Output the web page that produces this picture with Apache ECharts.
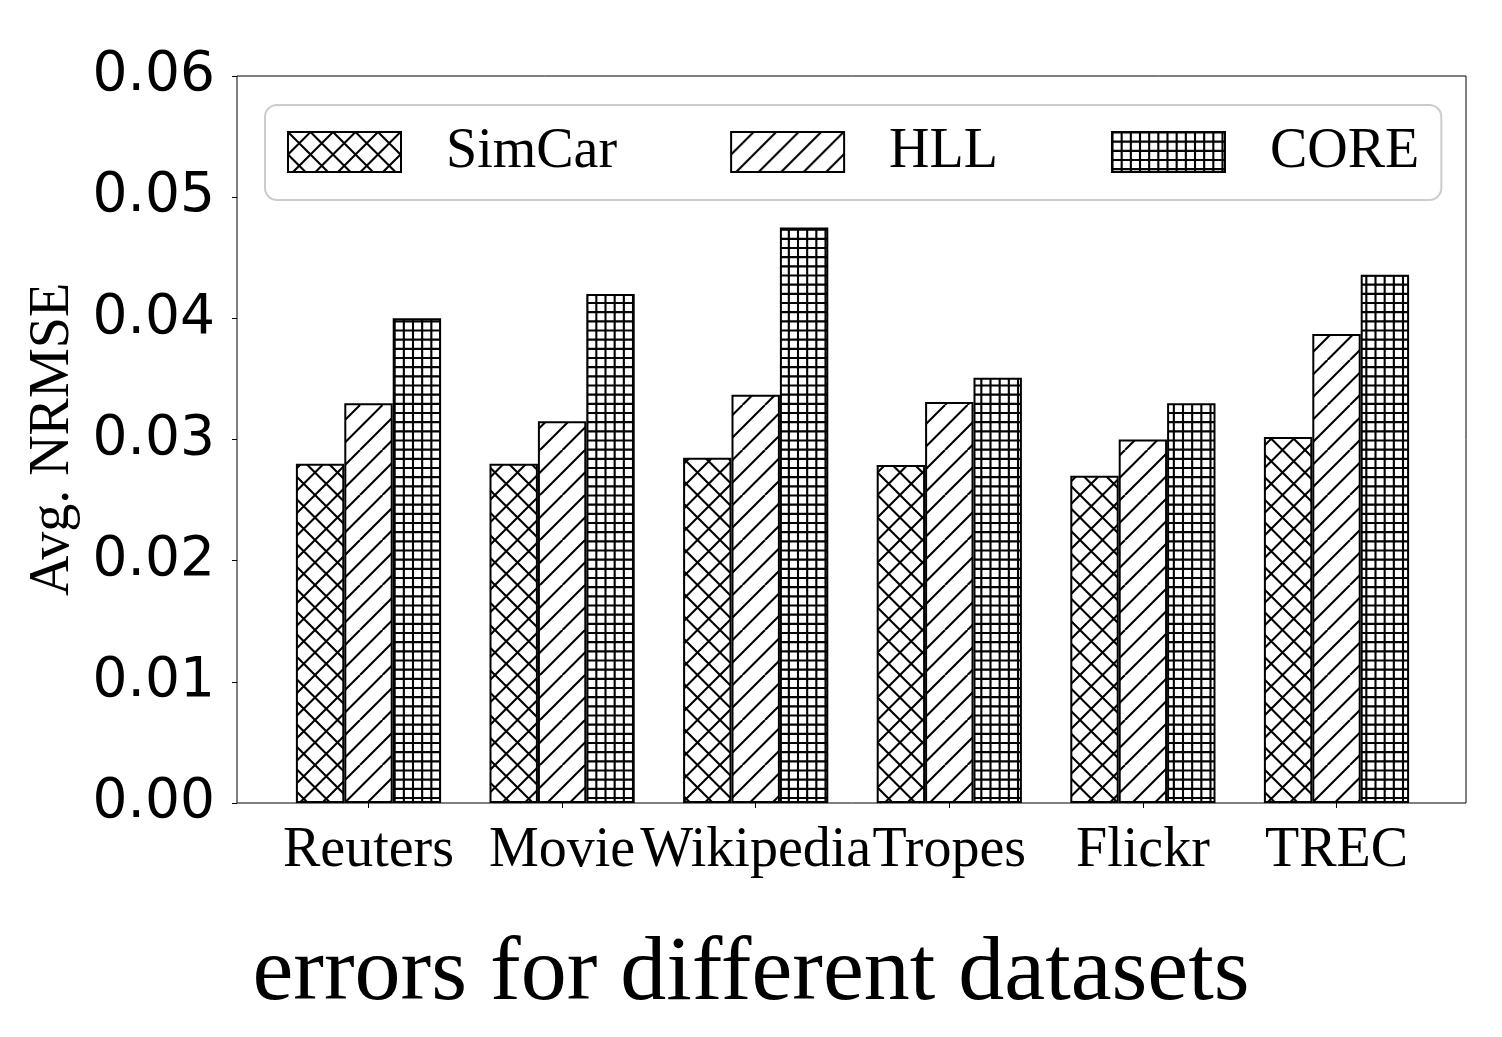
<!DOCTYPE html>
<html>
<head>
<meta charset="utf-8">
<script src="https://cdn.jsdelivr.net/npm/echarts@6/dist/echarts.min.js"></script>
<style>
html,body{margin:0;padding:0;background:#fff;}
#chart{width:1502px;height:1037px;}
</style>
</head>
<body>
<div id="chart"></div>
<script>
// ---- data ----
var categories = ['Reuters', 'Movie', 'Wikipedia', 'Tropes', 'Flickr', 'TREC'];
var seriesNames = ['SimCar', 'HLL', 'CORE'];
var simcar = [0.0280, 0.0280, 0.0285, 0.0279, 0.0270, 0.0302];
var hll    = [0.0330, 0.0315, 0.0337, 0.0331, 0.0300, 0.0387];
var core   = [0.0400, 0.0420, 0.0475, 0.0351, 0.0330, 0.0436];
var yTicks = [0, 0.01, 0.02, 0.03, 0.04, 0.05, 0.06];
var yAxisName = 'Avg. NRMSE';
var bottomTitle = 'errors for different datasets';

// ---- hatch patterns ----
function makePattern(kind) {
  var S = (kind === '+') ? 55 : 45;
  var c = document.createElement('canvas');
  c.width = S; c.height = S;
  var g = c.getContext('2d');
  g.fillStyle = '#fff';
  g.fillRect(0, 0, S, S);
  g.strokeStyle = '#000';
  g.lineWidth = 2.1;
  g.beginPath();
  var P, k;
  if (kind === 'x' || kind === '/') {
    P = S / 2;
    for (k = -1; k <= 5; k++) {
      var cc = k * P;
      g.moveTo(cc, 0); g.lineTo(cc - S, S);
    }
  }
  if (kind === 'x') {
    P = S / 2;
    for (k = -3; k <= 3; k++) {
      var x0 = k * P;
      g.moveTo(x0, 0); g.lineTo(x0 + S, S);
    }
  }
  if (kind === '+') {
    P = S / 6;
    for (k = 0; k <= 6; k++) {
      var v = k * P + 0.5;
      g.moveTo(v, 0); g.lineTo(v, S);
      g.moveTo(0, v); g.lineTo(S, v);
    }
  }
  g.stroke();
  return { image: c, repeat: 'repeat' };
}
var patterns = [makePattern('x'), makePattern('/'), makePattern('+')];
var values = [simcar, hll, core];

var chart = echarts.init(document.getElementById('chart'), null, { renderer: 'canvas' });

var serifFont = '"Liberation Serif", "Times New Roman", serif';
var sansFont = '"DejaVu Sans", sans-serif';

var series = seriesNames.map(function (name, i) {
  return {
    name: name,
    type: 'bar',
    xAxisIndex: 1,
    yAxisIndex: 1,
    barWidth: 48.4,
    barGap: '0%',
    data: values[i],
    itemStyle: {
      color: patterns[i],
      borderColor: '#000',
      borderWidth: 2
    },
    emphasis: { disabled: true }
  };
});

var option = {
  animation: false,
  backgroundColor: '#fff',
  title: {
    text: bottomTitle,
    left: 'center',
    top: 924,
    textStyle: { fontFamily: serifFont, fontSize: 92, fontWeight: 'normal', color: '#000' }
  },
  legend: {
    data: seriesNames,
    left: 265,
    top: 105,
    orient: 'horizontal',
    icon: 'rect',
    itemWidth: 113,
    itemHeight: 40,
    itemGap: 113,
    padding: [19, 22, 20, 22],
    borderColor: '#cccccc',
    borderWidth: 2,
    borderRadius: 12,
    backgroundColor: '#fff',
    itemStyle: { borderColor: '#000', borderWidth: 2 },
    textStyle: { fontFamily: serifFont, fontSize: 56, color: '#000', padding: [0, 0, 0, 40] },
    selectedMode: false
  },
  grid: [
    { left: 237, right: 36, top: 76, bottom: 234, show: true, borderColor: '#000', borderWidth: 1, backgroundColor: 'transparent', containLabel: false },
    { left: 271.7, width: 1161.6, top: 76, bottom: 234, containLabel: false }
  ],
  xAxis: [
    { gridIndex: 0, type: 'value', min: 0, max: 1, show: false },
    {
      gridIndex: 1,
      type: 'category',
      data: categories,
      axisLine: { show: false },
      axisTick: { show: true, alignWithLabel: true, length: 5, lineStyle: { color: '#000', width: 1 } },
      axisLabel: { margin: 20, fontFamily: serifFont, fontSize: 56, color: '#000', interval: 0 },
      splitLine: { show: false }
    }
  ],
  yAxis: [
    {
      gridIndex: 0,
      type: 'value',
      min: 0,
      max: 0.06,
      interval: 0.01,
      name: yAxisName,
      nameLocation: 'middle',
      nameGap: 153,
      nameRotate: 90,
      nameTextStyle: { fontFamily: serifFont, fontSize: 56, color: '#000' },
      axisLine: { show: false },
      axisTick: { show: true, length: 5, lineStyle: { color: '#000', width: 1 } },
      axisLabel: {
        margin: 22,
        fontFamily: sansFont,
        fontSize: 55,
        color: '#000',
        formatter: function (v) {
          for (var i = 0; i < yTicks.length; i++) {
            if (Math.abs(yTicks[i] - v) < 1e-9) return yTicks[i].toFixed(2);
          }
          return '';
        }
      },
      splitLine: { show: false }
    },
    { gridIndex: 1, type: 'value', min: 0, max: 0.06, show: false, splitLine: { show: false } }
  ],
  series: series
};
chart.setOption(option);
</script>
</body>
</html>
